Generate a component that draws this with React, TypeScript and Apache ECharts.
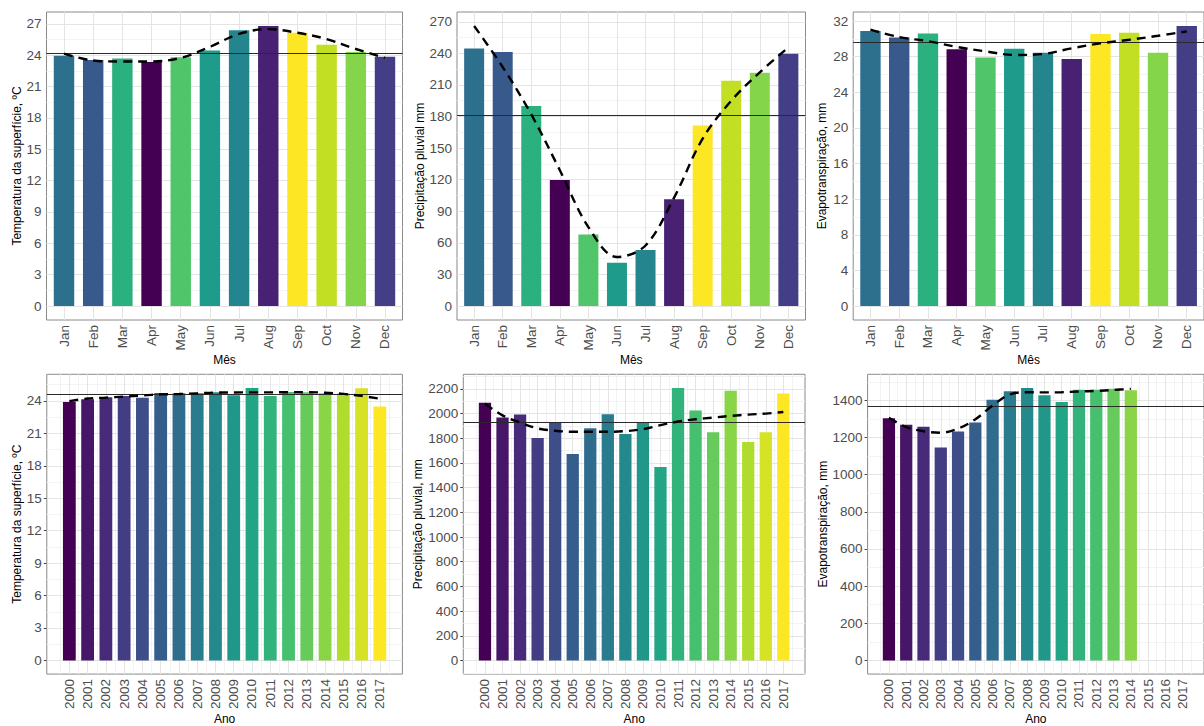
import React, { useEffect, useRef } from "react";
import * as echarts from "echarts";

// ---------- categories & tick labels ----------
const months = ["Jan", "Feb", "Mar", "Apr", "May", "Jun", "Jul", "Aug", "Sep", "Oct", "Nov", "Dec"];
const years = [2000, 2001, 2002, 2003, 2004, 2005, 2006, 2007, 2008, 2009, 2010, 2011, 2012, 2013, 2014, 2015, 2016, 2017];
const etYears = [2000, 2001, 2002, 2003, 2004, 2005, 2006, 2007, 2008, 2009, 2010, 2011, 2012, 2013, 2014];

const tempMonthlyTicks = [0, 3, 6, 9, 12, 15, 18, 21, 24, 27];
const precipMonthlyTicks = [0, 30, 60, 90, 120, 150, 180, 210, 240, 270];
const etMonthlyTicks = [0, 4, 8, 12, 16, 20, 24, 28, 32];
const tempAnnualTicks = [0, 3, 6, 9, 12, 15, 18, 21, 24];
const precipAnnualTicks = [0, 200, 400, 600, 800, 1000, 1200, 1400, 1600, 1800, 2000, 2200];
const etAnnualTicks = [0, 200, 400, 600, 800, 1000, 1200, 1400];

// ---------- values ----------
const tempMonthly = [23.95, 23.55, 23.7, 23.35, 23.8, 24.45, 26.4, 26.8, 26.15, 25.0, 24.3, 23.85];
const tempMonthlyTrend = [24.15, 23.5, 23.4, 23.4, 23.75, 24.8, 26.05, 26.5, 26.15, 25.55, 24.6, 23.75];
const tempMonthlyMean = 24.15;

const precipMonthly = [244.7, 241.2, 190, 119.8, 68, 41.1, 53.1, 101.5, 171.4, 214, 221.6, 239.6];
const precipMonthlyTrend = [266, 227, 182, 129, 75, 46.5, 57.5, 103, 159, 195, 222, 245.6];
const precipMonthlyMean = 180.8;

const etMonthly = [30.9, 30.15, 30.6, 28.85, 27.9, 28.9, 28.45, 27.75, 30.55, 30.7, 28.45, 31.45];
const etMonthlyTrend = [31.05, 30.2, 29.75, 29.1, 28.6, 28.2, 28.3, 28.95, 29.5, 29.9, 30.35, 30.85];
const etMonthlyMean = 29.6;

const tempAnnual = [23.91, 24.16, 24.34, 24.46, 24.28, 24.73, 24.71, 24.71, 24.8, 24.53, 25.2, 24.46, 24.83, 24.8, 24.71, 24.68, 25.17, 23.49];
const tempAnnualTrend = [23.98, 24.22, 24.3, 24.4, 24.5, 24.6, 24.64, 24.7, 24.77, 24.78, 24.79, 24.79, 24.8, 24.8, 24.76, 24.65, 24.46, 24.2];
const tempAnnualMean = 24.62;

const precipAnnual = [2088, 1968, 1992, 1802, 1928, 1672, 1882, 1994, 1834, 1928, 1568, 2208, 2026, 1848, 2186, 1770, 1848, 2162];
const precipAnnualTrend = [2080, 1986, 1928, 1880, 1861, 1853, 1853, 1853, 1858, 1874, 1906, 1936, 1954, 1968, 1981, 1992, 2000, 2013];
const precipAnnualMean = 1928;

const etAnnual = [1304, 1269, 1258, 1146, 1233, 1281, 1403, 1449, 1467, 1428, 1391, 1457, 1457, 1462, 1455];
const etAnnualTrend = [1306, 1256, 1234, 1226, 1248, 1298, 1372, 1432, 1444, 1443, 1444, 1448, 1451, 1456, 1462];
const etAnnualMean = 1368;

// ---------- colours (viridis) ----------
// monthly bars: viridis(12) by alphabetical month level
const monthColors = ["#2D708E", "#38598C", "#2BB07F", "#440154", "#51C56A", "#1E9B8A", "#25858E", "#482173", "#FDE725", "#C2DF23", "#85D54A", "#433E85"];
// annual bars: viridis(18)
const yearColors = ["#440154", "#461668", "#472A79", "#433D83", "#3D4E89", "#365E8D", "#2F6C8E", "#297B8E", "#24898D", "#21978A", "#22A585", "#31B37B", "#46C06F", "#67CB5C", "#89D447", "#B0DC2E", "#D6E226", "#FDE725"];

const FONT = "'Liberation Sans', Arial, Helvetica, sans-serif";
const W = 1204;
const H = 726;

type PanelDef = {
  frame: [number, number, number, number]; // x0, y0, x1, y1
  xs: number[];
  xTicks: number[];
  labelFor: (v: number) => string;
  expand: number; // expansion (in x units) on each side beyond first/last tick
  minorX: boolean;
  values: number[];
  colors: string[];
  trend: number[];
  mean: number;
  yTicks: number[];
  yName: string;
  yNameGap: number;
  xName: string;
  xNameGap: number;
};

function buildPanel(p: PanelDef, idx: number) {
  const [x0, y0, x1, y1] = p.frame;
  const first = p.xTicks[0];
  const last = p.xTicks[p.xTicks.length - 1];
  const xMin = first - p.expand;
  const xMax = last + p.expand;
  const stepPx = (x1 - x0) / (xMax - xMin);
  const barWidth = stepPx * 0.7;

  const top = Math.max(...p.values, ...p.trend, p.mean);
  const yLo = -0.05 * top;
  const yHi = top * 1.05;

  const yStep = p.yTicks[1] - p.yTicks[0];
  const minorY: number[] = [];
  for (let i = -1; i < p.yTicks.length; i++) {
    const v = p.yTicks[0] + (i + 0.5) * yStep;
    if (v > yLo && v < yHi) minorY.push(v);
  }
  const minorXs: number[] = [];
  if (p.minorX) {
    for (let i = -1; i < p.xTicks.length; i++) {
      const v = first + i + 0.5;
      if (v > xMin && v < xMax) minorXs.push(v);
    }
  }

  const grid = {
    left: x0,
    top: y0,
    width: x1 - x0,
    height: y1 - y0,
    show: true,
    backgroundColor: "#ffffff",
    borderColor: "#8a8a8a",
    borderWidth: 1,
    z: 0,
  };

  const xAxis = {
    type: "value",
    gridIndex: idx,
    min: xMin,
    max: xMax,
    axisLine: { show: false },
    splitLine: { show: false },
    axisTick: { show: true, customValues: p.xTicks, length: 3, lineStyle: { color: "#444", width: 1 } },
    axisLabel: {
      customValues: p.xTicks,
      formatter: (v: number) => p.labelFor(v),
      rotate: 90,
      margin: 5,
      color: "#4d4d4d",
      fontSize: 13.5,
      fontFamily: FONT,
    },
    name: p.xName,
    nameLocation: "middle",
    nameGap: p.xNameGap,
    nameTextStyle: { color: "#000", fontSize: 12, fontFamily: FONT },
  };

  const yAxis = {
    type: "value",
    gridIndex: idx,
    min: yLo,
    max: yHi,
    axisLine: { show: false },
    splitLine: { show: false },
    axisTick: { show: true, customValues: p.yTicks, length: 3, lineStyle: { color: "#444", width: 1 } },
    axisLabel: {
      customValues: p.yTicks,
      formatter: (v: number) => String(Math.round(v * 100) / 100),
      margin: 5,
      color: "#4d4d4d",
      fontSize: 13.5,
      fontFamily: FONT,
    },
    name: p.yName,
    nameLocation: "middle",
    nameGap: p.yNameGap,
    nameTextStyle: { color: "#000", fontSize: 12, fontFamily: FONT },
  };

  const minorStyle = { color: "#f3f3f3", width: 1, type: "solid" };
  const majorStyle = { color: "#e4e4e4", width: 1, type: "solid" };
  const gridLines: any[] = [
    ...minorY.map((v) => ({ yAxis: v, lineStyle: minorStyle })),
    ...minorXs.map((v) => ({ xAxis: v, lineStyle: minorStyle })),
    ...p.yTicks.map((v) => ({ yAxis: v, lineStyle: majorStyle })),
    ...p.xTicks.map((v) => ({ xAxis: v, lineStyle: majorStyle })),
  ];

  const series = [
    {
      type: "line",
      xAxisIndex: idx,
      yAxisIndex: idx,
      data: [[xMin, yLo]],
      showSymbol: false,
      symbol: "none",
      lineStyle: { opacity: 0 },
      silent: true,
      z: 1,
      markLine: {
        silent: true,
        symbol: ["none", "none"],
        label: { show: false },
        animation: false,
        z: 1,
        data: gridLines,
      },
    },
    {
      type: "bar",
      xAxisIndex: idx,
      yAxisIndex: idx,
      barWidth,
      z: 2,
      clip: false,
      data: p.values.map((v, i) => ({
        value: [p.xs[i], v],
        itemStyle: { color: p.colors[i] },
      })),
    },
    {
      type: "line",
      xAxisIndex: idx,
      yAxisIndex: idx,
      data: p.trend.map((v, i) => [p.xs[i], v]),
      smooth: 0.35,
      showSymbol: false,
      symbol: "none",
      z: 5,
      lineStyle: { color: "#000", width: 2.4, type: [9, 6] },
      markLine: {
        silent: true,
        symbol: ["none", "none"],
        label: { show: false },
        animation: false,
        z: 4,
        lineStyle: { color: "#2a2a2a", width: 1.1, type: "solid" },
        data: [{ yAxis: p.mean }],
      },
    },
  ];

  return { grid, xAxis, yAxis, series };
}

const monthIdx = months.map((_, i) => i);
const monthLabel = (v: number) => months[Math.round(v)] ?? "";
const yearLabel = (v: number) => String(Math.round(v));

const TOP: [number, number] = [12, 320];
const BOT: [number, number] = [374.3, 677.7];

const panels: PanelDef[] = [
  {
    frame: [46.5, TOP[0], 402.5, TOP[1]],
    xs: monthIdx, xTicks: monthIdx, labelFor: monthLabel, expand: 0.6, minorX: false,
    values: tempMonthly, colors: monthColors, trend: tempMonthlyTrend, mean: tempMonthlyMean,
    yTicks: tempMonthlyTicks, yName: "Temperatura da superfície, ºC", yNameGap: 24,
    xName: "Mês", xNameGap: 31,
  },
  {
    frame: [457, TOP[0], 805.5, TOP[1]],
    xs: monthIdx, xTicks: monthIdx, labelFor: monthLabel, expand: 0.6, minorX: false,
    values: precipMonthly, colors: monthColors, trend: precipMonthlyTrend, mean: precipMonthlyMean,
    yTicks: precipMonthlyTicks, yName: "Precipitação pluvial mm", yNameGap: 31,
    xName: "Mês", xNameGap: 31,
  },
  {
    frame: [853.2, TOP[0], 1208.5, TOP[1]],
    xs: monthIdx, xTicks: monthIdx, labelFor: monthLabel, expand: 0.6, minorX: false,
    values: etMonthly, colors: monthColors, trend: etMonthlyTrend, mean: etMonthlyMean,
    yTicks: etMonthlyTicks, yName: "Evapotranspiração, mm", yNameGap: 25,
    xName: "Mês", xNameGap: 31,
  },
  {
    frame: [46.8, BOT[0], 402.4, BOT[1]],
    xs: years, xTicks: years, labelFor: yearLabel, expand: 1.235, minorX: true,
    values: tempAnnual, colors: yearColors, trend: tempAnnualTrend, mean: tempAnnualMean,
    yTicks: tempAnnualTicks, yName: "Temperatura da superfície, ºC", yNameGap: 24,
    xName: "Ano", xNameGap: 34.5,
  },
  {
    frame: [463.3, BOT[0], 805, BOT[1]],
    xs: years, xTicks: years, labelFor: yearLabel, expand: 1.235, minorX: true,
    values: precipAnnual, colors: yearColors, trend: precipAnnualTrend, mean: precipAnnualMean,
    yTicks: precipAnnualTicks, yName: "Precipitação pluvial, mm", yNameGap: 37,
    xName: "Ano", xNameGap: 34.5,
  },
  {
    frame: [867.6, BOT[0], 1208.3, BOT[1]],
    xs: etYears, xTicks: years, labelFor: yearLabel, expand: 1.235, minorX: true,
    values: etAnnual, colors: yearColors, trend: etAnnualTrend, mean: etAnnualMean,
    yTicks: etAnnualTicks, yName: "Evapotranspiração, mm", yNameGap: 39,
    xName: "Ano", xNameGap: 34.5,
  },
];

export default function App() {
  const ref = useRef<HTMLDivElement>(null);
  useEffect(() => {
    if (!ref.current) return;
    const chart = echarts.init(ref.current, undefined, { renderer: "svg", width: W, height: H });
    const built = panels.map((p, i) => buildPanel(p, i));
    chart.setOption({
      animation: false,
      backgroundColor: "#ffffff",
      textStyle: { fontFamily: FONT },
      grid: built.map((b) => b.grid),
      xAxis: built.map((b) => b.xAxis),
      yAxis: built.map((b) => b.yAxis),
      series: built.flatMap((b) => b.series),
    });
    return () => chart.dispose();
  }, []);
  return (
    <div
      ref={ref}
      style={{ position: "absolute", left: 0, top: 0, width: W, height: H, overflow: "hidden" }}
    />
  );
}
